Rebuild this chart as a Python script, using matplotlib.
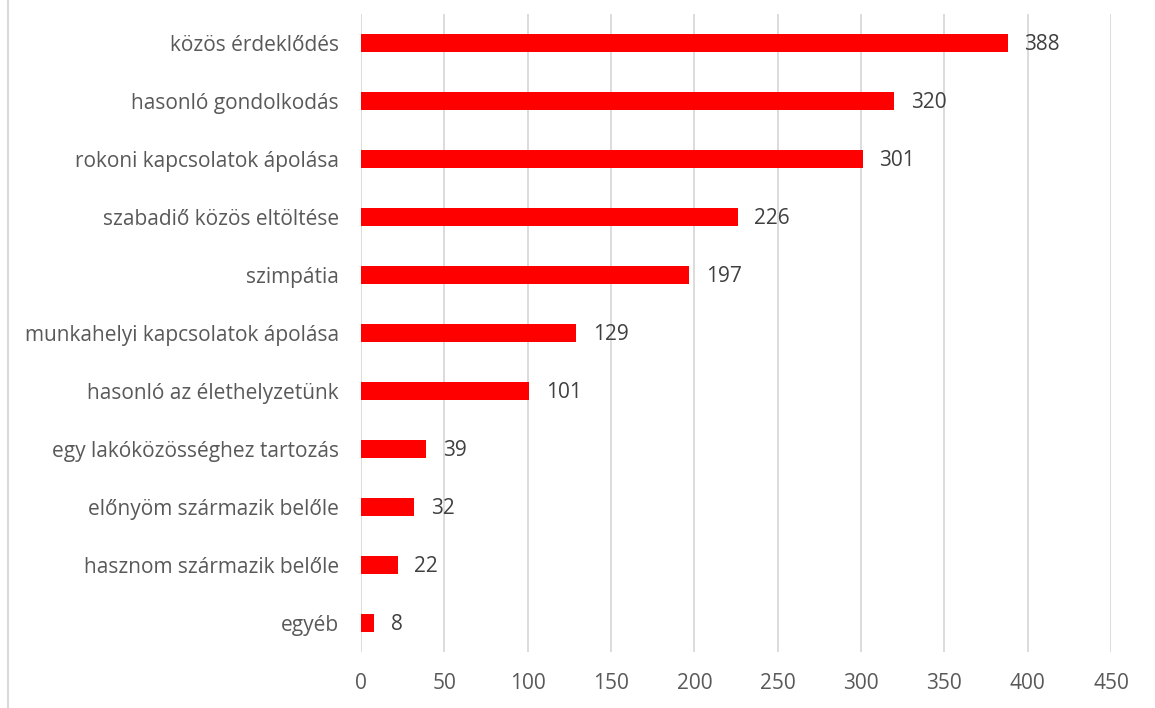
import matplotlib.pyplot as plt
from matplotlib.lines import Line2D

categories = [
    "közös érdeklődés",
    "hasonló gondolkodás",
    "rokoni kapcsolatok ápolása",
    "szabadiő közös eltöltése",
    "szimpátia",
    "munkahelyi kapcsolatok ápolása",
    "hasonló az élethelyzetünk",
    "egy lakóközösséghez tartozás",
    "előnyöm származik belőle",
    "hasznom származik belőle",
    "egyéb",
]
values = [388, 320, 301, 226, 197, 129, 101, 39, 32, 22, 8]
xticks = [0, 50, 100, 150, 200, 250, 300, 350, 400, 450]

plt.rcParams["font.family"] = ["Open Sans", "DejaVu Sans"]

fig = plt.figure(figsize=(11.55, 7.08), dpi=100)
ax = fig.add_axes([361 / 1155, 56 / 708, 750 / 1155, 638 / 708])

pos = list(range(len(categories)))
ax.barh(pos, values, height=0.31, color="#ff0000", zorder=3)
for p, v in zip(pos, values):
    ax.annotate(str(v), (v, p), xytext=(12, -1), textcoords="offset points",
                va="center", ha="left", fontsize=15, color="#404040")

ax.set_xlim(0, 450)
ax.set_ylim(len(categories) - 0.5, -0.5)
ax.set_xticks(xticks)
ax.set_yticks(pos)
ax.set_yticklabels(categories)
ax.tick_params(axis="y", length=0, pad=16, labelsize=15, labelcolor="#595959")
ax.tick_params(axis="x", length=0, pad=15, labelsize=15, labelcolor="#595959")
ax.grid(axis="x", color="#d9d9d9", linewidth=1.3, zorder=0)
for s in ax.spines.values():
    s.set_visible(False)

fig.add_artist(Line2D([7.5 / 1155, 7.5 / 1155], [0, 1], color="#d9d9d9", linewidth=1.5))

plt.savefig("out.png", dpi=100)
